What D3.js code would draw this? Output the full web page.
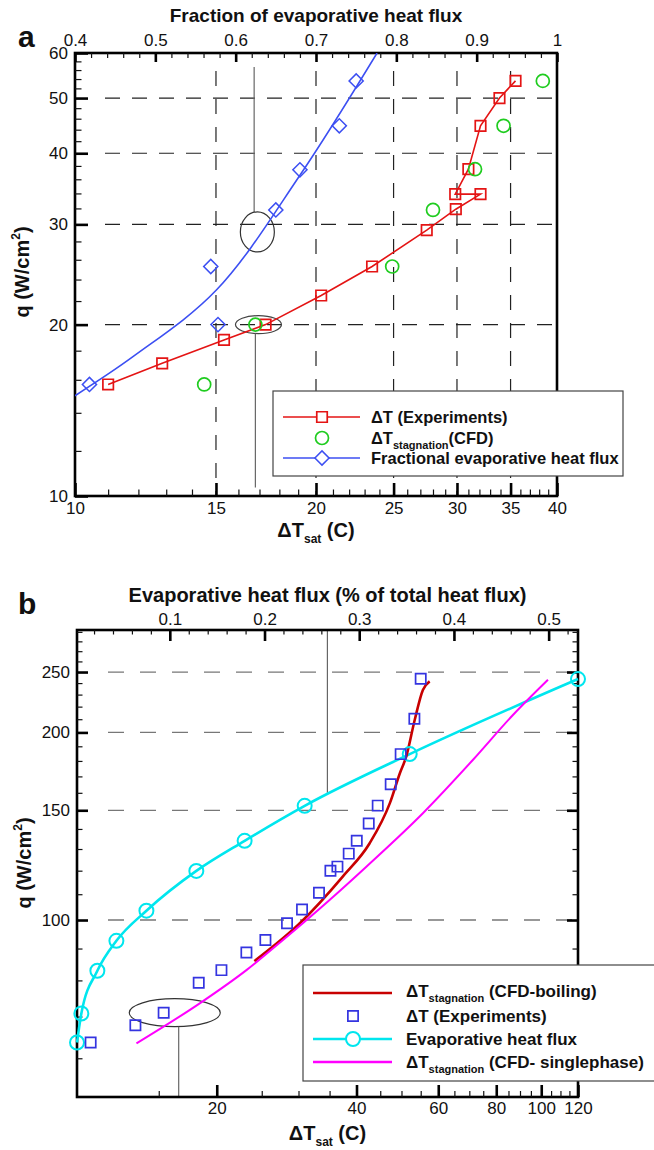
<!DOCTYPE html>
<html>
<head>
<meta charset="utf-8">
<script src="https://cdn.jsdelivr.net/npm/d3@7"></script>
<style>
	body { margin: 0; background: #fff; }
	svg { display: block; font-family: Arial, "Liberation Sans", sans-serif; }
	.lbl { font-weight: bold; fill: #111; }
</style>
</head>
<body>
<svg width="654" height="1150"></svg>
<script>
// ---------- panel a data ----------
var aExpDT = [11.0, 12.85, 15.35, 17.3, 20.3, 23.5, 27.5, 29.9, 32.1, 29.85, 31.0, 32.1, 33.9, 35.5];
var aExpQ = [15.7, 17.1, 18.8, 20.0, 22.5, 25.3, 29.3, 31.9, 33.9, 33.9, 37.5, 44.7, 50.0, 53.6];
var aCfdDT = [14.5, 16.8, 24.9, 28.0, 31.6, 34.3, 38.4];
var aCfdQ = [15.7, 20.0, 25.3, 31.8, 37.5, 44.7, 53.6];
var aFracX = [0.418, 0.578, 0.569, 0.650, 0.680, 0.729, 0.750];
var aFracQ = [15.7, 20.0, 25.3, 31.8, 37.4, 44.7, 53.6];
// fitted curve through the fraction points
var aFitX = [0.400, 0.473, 0.576, 0.680, 0.776];
var aFitQ = [15.0, 17.6, 23.0, 36.6, 60.0];
var aBottomTicks = [10, 15, 20, 25, 30, 35, 40];
var aLeftTicks = [10, 20, 30, 40, 50, 60];
var aTopTicks = [0.4, 0.5, 0.6, 0.7, 0.8, 0.9, 1];
var aGridX = [15, 20, 25, 30, 35];
var aGridQ = [20, 30, 40, 50];

// ---------- panel b data ----------
var bExpDT = [10.7, 13.36, 15.37, 18.29, 20.47, 23.17, 25.46, 28.34, 30.53, 33.21, 35.15, 36.39, 38.49, 40.05, 42.5, 44.44, 47.4, 49.8, 53.3, 55.0];
var bExpQ = [63.6, 67.8, 71.0, 79.3, 83.1, 88.7, 92.9, 98.8, 104.0, 110.6, 120.0, 121.8, 127.8, 134.0, 142.8, 152.6, 165.2, 184.6, 210.4, 243.9];
var bEvapFrac = [0.002, 0.0066, 0.0235, 0.0436, 0.0753, 0.128, 0.179, 0.2424, 0.3533, 0.531];
var bEvapQ = [63.6, 70.8, 82.9, 92.6, 103.5, 119.9, 134.0, 152.5, 184.6, 243.6];
var bBoilDT = [24.1, 30.2, 37.4, 42.7, 47.2, 49.6, 51.2, 53.4, 55.6, 57.5];
var bBoilQ = [85.9, 98.8, 117.5, 132.8, 154.0, 172.0, 183.0, 209.6, 234.0, 241.5];
var bSingleDT = [13.43, 18.38, 23.17, 27.78, 35.0, 42.0, 55.6, 71.3, 87.0, 103.4];
var bSingleQ = [63.4, 73.5, 83.1, 92.9, 107.7, 121.8, 148.4, 180.8, 213.5, 243.0];
var bBottomTicks = [20, 40, 60, 80, 100, 120];
var bLeftTicks = [100, 150, 200, 250];
var bTopTicks = [0.1, 0.2, 0.3, 0.4, 0.5];

var svg = d3.select("svg");
var font = "Arial, 'Liberation Sans', sans-serif";

function zip(xs, ys) { return xs.map((x, i) => [x, ys[i]]); }

// ticks pointing into the plot; minor ones first
function drawTicks(g, make, scale, tr, major, minor, majLen, minLen, pad, fmt) {
	var mi = g.append("g").attr("transform", tr)
		.call(make(scale).tickValues(minor).tickSize(-minLen).tickFormat(""));
	mi.select(".domain").remove();
	mi.selectAll("line").attr("stroke", "#111").attr("stroke-width", 1.2);
	var ma = g.append("g").attr("transform", tr)
		.call(make(scale).tickValues(major).tickSize(-majLen).tickPadding(pad).tickFormat(fmt));
	ma.select(".domain").remove();
	ma.attr("font-family", font).attr("font-size", 17);
	ma.selectAll("line").attr("stroke", "#000").attr("stroke-width", 2.6);
	ma.selectAll("text").attr("fill", "#111");
}

function subText(g, x, y, main, sub, rest, size, subSize, anchor) {
	var t = g.append("text").attr("class", "lbl").attr("x", x).attr("y", y)
		.attr("font-size", size).attr("text-anchor", anchor || "start");
	t.append("tspan").text(main);
	t.append("tspan").attr("font-size", subSize).attr("dy", size * 0.3).text(sub);
	t.append("tspan").attr("dy", -size * 0.3).text(rest);
	return t;
}

function yTitle(g, x, y) {
	var t = g.append("text").attr("class", "lbl").attr("font-size", 20)
		.attr("text-anchor", "middle")
		.attr("transform", "translate(" + x + "," + y + ") rotate(-90)");
	t.append("tspan").text("q (W/cm");
	t.append("tspan").attr("font-size", 12).attr("dy", -9).text("2");
	t.append("tspan").attr("dy", 9).text(")");
}

function fmtNum(d) { return String(+d.toFixed(2)); }

// =================== PANEL A ===================
var A = { l: 75, r: 557, t: 53, b: 496 };
var ax = d3.scaleLog().domain([10, 40]).range([A.l, A.r]);
var axTop = d3.scaleLinear().domain([0.4, 1]).range([A.l, A.r]);
var ay = d3.scaleLog().domain([10, 60]).range([A.b, A.t]);

var ga = svg.append("g");
ga.append("clipPath").attr("id", "clipA").append("rect")
	.attr("x", A.l).attr("y", A.t).attr("width", A.r - A.l).attr("height", A.b - A.t);

// grid
ga.selectAll(".gv").data(aGridX).join("line")
	.attr("x1", d => ax(d)).attr("x2", d => ax(d)).attr("y1", A.t + 18).attr("y2", A.b)
	.attr("stroke", "#222").attr("stroke-width", 1.2).attr("stroke-dasharray", "15,13");
ga.selectAll(".gh").data(aGridQ).join("line")
	.attr("x1", A.l + 30).attr("x2", A.r).attr("y1", d => ay(d)).attr("y2", d => ay(d))
	.attr("stroke", "#222").attr("stroke-width", 1.2).attr("stroke-dasharray", "15,12");

// callouts
ga.append("line").attr("x1", axTop(0.623)).attr("x2", axTop(0.623))
	.attr("y1", ay(56.7)).attr("y2", ay(29.1) - 20).attr("stroke", "#666").attr("stroke-width", 1.2);
ga.append("ellipse").attr("cx", axTop(0.627)).attr("cy", ay(29.1)).attr("rx", 17).attr("ry", 20)
	.attr("fill", "none").attr("stroke", "#333").attr("stroke-width", 1.2);
ga.append("ellipse").attr("cx", ax(16.95)).attr("cy", ay(20)).attr("rx", 23).attr("ry", 9)
	.attr("fill", "none").attr("stroke", "#444").attr("stroke-width", 1.2);
ga.append("line").attr("x1", ax(16.8)).attr("x2", ax(16.8))
	.attr("y1", ay(20) + 9).attr("y2", ay(10.35)).attr("stroke", "#666").attr("stroke-width", 1.2);

// frame
ga.append("rect").attr("x", A.l).attr("y", A.t).attr("width", A.r - A.l).attr("height", A.b - A.t)
	.attr("fill", "none").attr("stroke", "#000").attr("stroke-width", 2.6);

drawTicks(ga, d3.axisBottom, ax, "translate(0," + A.b + ")", aBottomTicks,
	d3.range(11, 40).filter(d => d % 5), 13, 6.5, 6, d3.format("d"));
drawTicks(ga, d3.axisLeft, ay, "translate(" + A.l + ",0)", aLeftTicks,
	d3.range(12, 60, 2).filter(d => d % 10), 13, 6.5, 7, d3.format("d"));
drawTicks(ga, d3.axisTop, axTop, "translate(0," + A.t + ")", aTopTicks,
	d3.range(21, 50).filter(i => i % 5).map(i => i / 50), 9, 5, 7, fmtNum);

// series
var aCol = { exp: "#e41414", cfd: "#1fcc1f", frac: "#3c4ff2" };
var lineA = d3.line().x(d => ax(d[0])).y(d => ay(d[1]));
ga.append("path").attr("d", lineA(zip(aExpDT, aExpQ)))
	.attr("fill", "none").attr("stroke", aCol.exp).attr("stroke-width", 1.6);
var fitLine = d3.line().curve(d3.curveCatmullRom.alpha(0.5)).x(d => axTop(d[0])).y(d => ay(d[1]));
ga.append("path").attr("d", fitLine(zip(aFitX, aFitQ))).attr("clip-path", "url(#clipA)")
	.attr("fill", "none").attr("stroke", aCol.frac).attr("stroke-width", 1.6);

var sq = d3.symbol().type(d3.symbolSquare).size(110);
ga.selectAll(".sqa").data(zip(aExpDT, aExpQ)).join("path")
	.attr("d", sq).attr("transform", d => "translate(" + ax(d[0]) + "," + ay(d[1]) + ")")
	.attr("fill", "none").attr("stroke", aCol.exp).attr("stroke-width", 1.7);
ga.selectAll(".cia").data(zip(aCfdDT, aCfdQ)).join("circle")
	.attr("cx", d => ax(d[0])).attr("cy", d => ay(d[1])).attr("r", 6.5)
	.attr("fill", "none").attr("stroke", aCol.cfd).attr("stroke-width", 1.7);
var dia = d3.symbol().type(d3.symbolSquare).size(100);
ga.selectAll(".dia").data(zip(aFracX, aFracQ)).join("path")
	.attr("d", dia).attr("transform", d => "translate(" + axTop(d[0]) + "," + ay(d[1]) + ") rotate(45)")
	.attr("fill", "none").attr("stroke", aCol.frac).attr("stroke-width", 1.5);

// titles
ga.append("text").attr("class", "lbl").attr("x", 18).attr("y", 47).attr("font-size", 30).text("a");
ga.append("text").attr("class", "lbl").attr("x", (A.l + A.r) / 2).attr("y", 22)
	.attr("font-size", 19).attr("text-anchor", "middle").text("Fraction of evaporative heat flux");
subText(ga, (A.l + A.r) / 2, 537, "\u0394T", "sat", " (C)", 20, 12, "middle");
yTitle(ga, 29, 272);

// legend
var la = ga.append("g");
la.append("rect").attr("x", 273).attr("y", 391).attr("width", 350).attr("height", 85)
	.attr("fill", "#fff").attr("stroke", "#444").attr("stroke-width", 1.2);
la.append("line").attr("x1", 283).attr("x2", 360).attr("y1", 417).attr("y2", 417)
	.attr("stroke", aCol.exp).attr("stroke-width", 1.6);
la.append("path").attr("d", sq).attr("transform", "translate(322,417)")
	.attr("fill", "#fff").attr("stroke", aCol.exp).attr("stroke-width", 1.7);
la.append("circle").attr("cx", 322).attr("cy", 438).attr("r", 6.5)
	.attr("fill", "none").attr("stroke", aCol.cfd).attr("stroke-width", 1.7);
la.append("line").attr("x1", 283).attr("x2", 360).attr("y1", 458).attr("y2", 458)
	.attr("stroke", aCol.frac).attr("stroke-width", 1.6);
la.append("path").attr("d", dia).attr("transform", "translate(322,458) rotate(45)")
	.attr("fill", "#fff").attr("stroke", aCol.frac).attr("stroke-width", 1.5);
la.append("text").attr("class", "lbl").attr("x", 371).attr("y", 423).attr("font-size", 16.5).text("\u0394T (Experiments)");
subText(la, 371, 444, "\u0394T", "stagnation", "(CFD)", 16.5, 11);
la.append("text").attr("class", "lbl").attr("x", 371).attr("y", 464).attr("font-size", 16.5).text("Fractional evaporative heat flux");

// =================== PANEL B ===================
var B = { l: 77, r: 578, t: 630, b: 1097 };
var bx = d3.scaleLog().domain([10, 120]).range([B.l, B.r]);
var bxTop = d3.scaleLinear().domain([0.002, 0.531]).range([B.l, B.r]);
var by = d3.scaleLog().domain([52, 292]).range([B.b, B.t]);

var gb = svg.append("g");

gb.selectAll(".gh").data(bLeftTicks).join("line")
	.attr("x1", B.l + 31).attr("x2", B.r).attr("y1", d => by(d)).attr("y2", d => by(d))
	.attr("stroke", "#777").attr("stroke-width", 1.3).attr("stroke-dasharray", "16,16");

// callouts
gb.append("line").attr("x1", bxTop(0.2664)).attr("x2", bxTop(0.2664))
	.attr("y1", by(292)).attr("y2", by(160)).attr("stroke", "#666").attr("stroke-width", 1.2);
gb.append("ellipse").attr("cx", bx(16.24)).attr("cy", by(71.0)).attr("rx", 45.5).attr("ry", 14)
	.attr("fill", "none").attr("stroke", "#333").attr("stroke-width", 1.2);
gb.append("line").attr("x1", bx(16.56)).attr("x2", bx(16.56))
	.attr("y1", by(71.0) + 14).attr("y2", by(52)).attr("stroke", "#666").attr("stroke-width", 1.2);

gb.append("rect").attr("x", B.l).attr("y", B.t).attr("width", B.r - B.l).attr("height", B.b - B.t)
	.attr("fill", "none").attr("stroke", "#000").attr("stroke-width", 2.6);

var bMinorQ = d3.range(60, 292, 10).filter(d => d % 50);
drawTicks(gb, d3.axisBottom, bx, "translate(0," + B.b + ")", bBottomTicks,
	d3.range(15, 120, 5).filter(d => d % 20), 12, 6, 5, d3.format("d"));
drawTicks(gb, d3.axisLeft, by, "translate(" + B.l + ",0)", bLeftTicks, bMinorQ, 11, 5.5, 7, d3.format("d"));
drawTicks(gb, d3.axisRight, by, "translate(" + B.r + ",0)", bLeftTicks, bMinorQ, 11, 5.5, 7, () => "");
drawTicks(gb, d3.axisTop, bxTop, "translate(0," + B.t + ")", bTopTicks,
	d3.range(1, 27).filter(i => i % 5).map(i => i / 50), 11, 4.5, 5, fmtNum);

var bCol = { boil: "#c80000", exp: "#3434e0", evap: "#00e6ee", single: "#ff00ff" };
var lineB = d3.line().curve(d3.curveMonotoneX).x(d => bx(d[0])).y(d => by(d[1]));
var lineBTop = d3.line().curve(d3.curveMonotoneX).x(d => bxTop(d[0])).y(d => by(d[1]));

gb.append("path").attr("d", lineBTop(zip(bEvapFrac, bEvapQ)))
	.attr("fill", "none").attr("stroke", bCol.evap).attr("stroke-width", 2.6);
gb.append("path").attr("d", lineB(zip(bBoilDT, bBoilQ)))
	.attr("fill", "none").attr("stroke", bCol.boil).attr("stroke-width", 2.6);
gb.append("path").attr("d", lineB(zip(bSingleDT, bSingleQ)))
	.attr("fill", "none").attr("stroke", bCol.single).attr("stroke-width", 2);

gb.selectAll(".cib").data(zip(bEvapFrac, bEvapQ)).join("circle")
	.attr("cx", d => bxTop(d[0])).attr("cy", d => by(d[1])).attr("r", 7)
	.attr("fill", "none").attr("stroke", bCol.evap).attr("stroke-width", 2);
var sqb = d3.symbol().type(d3.symbolSquare).size(105);
gb.selectAll(".sqb").data(zip(bExpDT, bExpQ)).join("path")
	.attr("d", sqb).attr("transform", d => "translate(" + bx(d[0]) + "," + by(d[1]) + ")")
	.attr("fill", "none").attr("stroke", bCol.exp).attr("stroke-width", 1.7);

gb.append("text").attr("class", "lbl").attr("x", 18).attr("y", 614).attr("font-size", 30).text("b");
gb.append("text").attr("class", "lbl").attr("x", (B.l + B.r) / 2).attr("y", 602)
	.attr("font-size", 20).attr("text-anchor", "middle").text("Evaporative heat flux (% of total heat flux)");
subText(gb, (B.l + B.r) / 2, 1140, "\u0394T", "sat", " (C)", 20, 12, "middle");
yTitle(gb, 31, 863);

// legend
var lb = gb.append("g");
lb.append("rect").attr("x", 303).attr("y", 965).attr("width", 353).attr("height", 116)
	.attr("fill", "#fff").attr("stroke", "#444").attr("stroke-width", 1.2);
lb.append("line").attr("x1", 313).attr("x2", 392).attr("y1", 993).attr("y2", 993)
	.attr("stroke", bCol.boil).attr("stroke-width", 2.6);
lb.append("path").attr("d", sqb).attr("transform", "translate(353,1016)")
	.attr("fill", "none").attr("stroke", bCol.exp).attr("stroke-width", 1.7);
lb.append("line").attr("x1", 313).attr("x2", 392).attr("y1", 1039).attr("y2", 1039)
	.attr("stroke", bCol.evap).attr("stroke-width", 2.6);
lb.append("circle").attr("cx", 353).attr("cy", 1039).attr("r", 7)
	.attr("fill", "#fff").attr("stroke", bCol.evap).attr("stroke-width", 2);
lb.append("line").attr("x1", 313).attr("x2", 392).attr("y1", 1062).attr("y2", 1062)
	.attr("stroke", bCol.single).attr("stroke-width", 2.4);
subText(lb, 406, 997, "\u0394T", "stagnation", " (CFD-boiling)", 17, 11);
lb.append("text").attr("class", "lbl").attr("x", 406).attr("y", 1022).attr("font-size", 17).text("\u0394T (Experiments)");
lb.append("text").attr("class", "lbl").attr("x", 406).attr("y", 1045).attr("font-size", 17).text("Evaporative heat flux");
subText(lb, 406, 1068, "\u0394T", "stagnation", " (CFD- singlephase)", 17, 11);
</script>
</body>
</html>
